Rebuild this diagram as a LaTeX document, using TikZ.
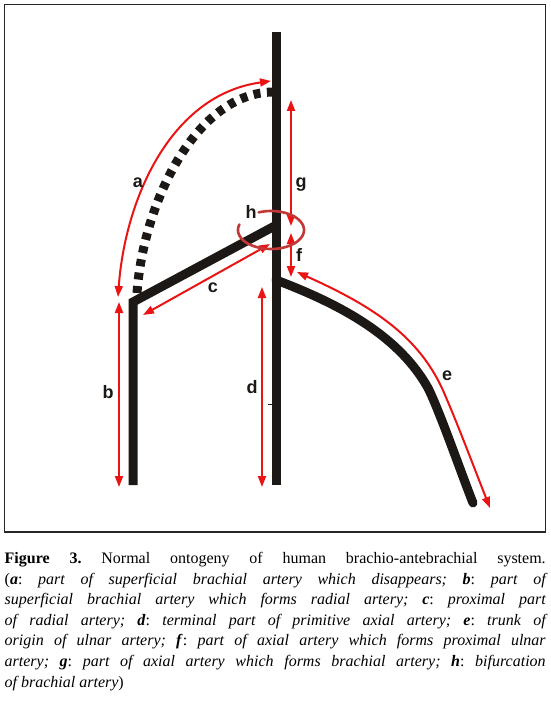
\documentclass[tikz,border=0pt]{standalone}
\usepackage{fontspec}
\setmainfont{Liberation Serif}
\newfontfamily\labfont{Liberation Sans}
\usetikzlibrary{arrows.meta}
\definecolor{arred}{RGB}{235,20,20}
\definecolor{ellred}{RGB}{195,55,55}
\definecolor{vessel}{RGB}{28,24,22}
\tikzset{
  vessel/.style={draw=vessel, line width=9pt},
  dashvessel/.style={draw=vessel, line width=9pt, dash pattern=on 7pt off 6.5pt},
  redarr/.style={draw=arred, line width=2pt, {Triangle[length=11pt,width=8pt]}-{Triangle[length=11pt,width=8pt]}},
  lab/.style={font=\labfont\bfseries\fontsize{18}{18}\selectfont, text=vessel, inner sep=0pt},
}
\frenchspacing
\begin{document}
\begin{tikzpicture}[x=1pt,y=-1pt]
\useasboundingbox (0,0) rectangle (550,703);
\fill[white] (0,0) rectangle (550,703);
\draw[line width=1.4pt, draw=black!85] (4.5,4.5) rectangle (545.5,532);

% coordinates
\coordinate (top) at (276.5,32);
\coordinate (mainbot) at (276.5,485);
\coordinate (leftbot) at (133,485);
\coordinate (corner) at (133,302);
\coordinate (bif) at (276.5,225);
\coordinate (ulnstart) at (276,280);
\coordinate (ulnmid) at (428,388);
\coordinate (ulnend) at (473,503);
\coordinate (dashstart) at (137,293);
\coordinate (dashend) at (274,92);

% vessels
\draw[vessel] (top) -- (mainbot);
\draw[vessel, line join=miter] (leftbot) -- (corner) -- (bif);
\draw[vessel, line cap=round] (ulnstart) .. controls (345,306) and (400,338) .. (ulnmid)
      .. controls (440,412) and (460,470) .. (ulnend);
\draw[dashvessel] (dashstart) .. controls (143,205) and (195,92) .. (dashend);
\draw[draw=vessel, line width=0.9pt] (268,404) -- (276,404);

% red arrows
\coordinate (a1) at (118,297);
\coordinate (a2) at (271,81);
\draw[redarr] (a1) .. controls (125,200) and (170,95) .. (a2);
\coordinate (b1) at (119,302);
\coordinate (b2) at (119,487);
\draw[redarr] (b1) -- (b2);
\coordinate (c1) at (143,315);
\coordinate (c2) at (270,244);
\draw[redarr] (c1) -- (c2);
\coordinate (d1) at (262,287);
\coordinate (d2) at (262,487);
\draw[redarr] (d1) -- (d2);
\coordinate (g1) at (291,100);
\coordinate (g2) at (291,226);
\draw[redarr] (g1) -- (g2);
\coordinate (f1) at (291,233);
\coordinate (f2) at (291,277);
\draw[redarr] (f1) -- (f2);
\coordinate (e1) at (297,272);
\coordinate (e2) at (490,508);
\draw[redarr] (e1) .. controls (370,305) and (420,335) .. (445,395)
      .. controls (458,425) and (475,470) .. (e2);

% bifurcation ellipse (open near label h)
\coordinate (hc) at (271,230);
\draw[ellred, line width=2.6pt, line cap=round]
  plot[domain=112:-197, samples=90, smooth] ({271+33*cos(\x)},{230-19*sin(\x)});

% labels
\node[lab] (la) at (138,183) {a};
\node[lab] (lg) at (301,185) {g};
\node[lab] (lh) at (251,212) {h};
\node[lab] (lf) at (299,255) {f};
\node[lab] (lc) at (213,288) {c};
\node[lab] (lb) at (108,392) {b};
\node[lab] (ld) at (252,387) {d};
\node[lab] (le) at (447,376) {e};

% caption
\node[anchor=north west, inner sep=0pt, text width=541pt, align=justify,
      font=\fontsize{16}{20.6}\selectfont] (cap) at (4.5,552)
{\textbf{Figure 3.} Normal ontogeny of human brachio-antebrachial system.\linebreak
(\textbf{\textit{a}}: \textit{part of superficial brachial artery which disappears;} \textbf{\textit{b}}: \textit{part of\linebreak
superficial brachial artery which forms radial artery;} \textbf{\textit{c}}: \textit{proximal part\linebreak
of radial artery;} \textbf{\textit{d}}: \textit{terminal part of primitive axial artery;} \textbf{\textit{e}}: \textit{trunk of\linebreak
origin of ulnar artery;} \textbf{\textit{f}}: \textit{part of axial artery which forms proximal ulnar\linebreak
artery;} \textbf{\textit{g}}: \textit{part of axial artery which forms brachial artery;} \textbf{\textit{h}}: \textit{bifurcation\linebreak
of brachial artery})};
\end{tikzpicture}
\end{document}
